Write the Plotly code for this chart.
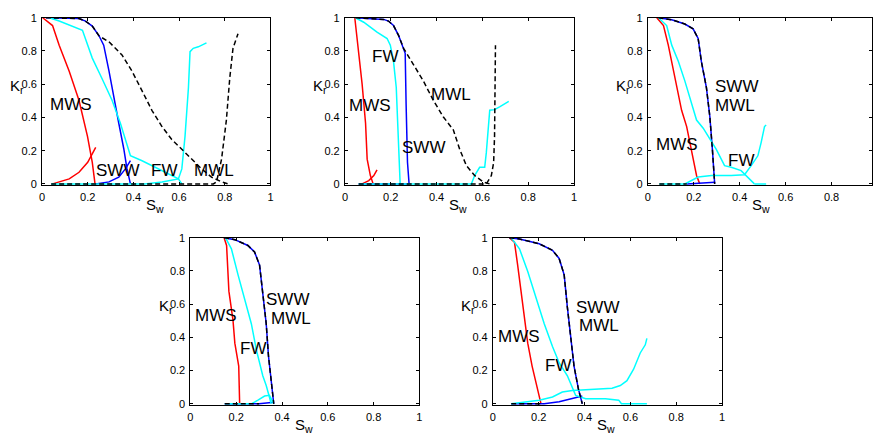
import plotly.graph_objects as go

W, H = 875, 443

# ---------------- Panel 1 ----------------
p1_mws_dr_x = [0.003, 0.046, 0.075, 0.119, 0.162, 0.199, 0.22, 0.232]
p1_mws_dr_y = [1.0, 0.953, 0.835, 0.678, 0.502, 0.286, 0.13, 0.0]
p1_mws_im_x = [0.046, 0.119, 0.162, 0.2, 0.235]
p1_mws_im_y = [0.0, 0.03, 0.07, 0.13, 0.22]
p1_sww_dr_x = [0.017, 0.162, 0.19, 0.22, 0.25, 0.27, 0.293, 0.314, 0.336, 0.358, 0.372, 0.387]
p1_sww_dr_y = [1.0, 0.995, 0.98, 0.95, 0.89, 0.835, 0.68, 0.52, 0.365, 0.21, 0.09, 0.0]
p1_sww_im_x = [0.235, 0.293, 0.336, 0.365, 0.387]
p1_sww_im_y = [0.0, 0.012, 0.04, 0.09, 0.14]
p1_fw_dr_x = [0.032, 0.075, 0.177, 0.22, 0.264, 0.307, 0.343, 0.387, 0.438, 0.496, 0.554, 0.597, 0.612]
p1_fw_dr_y = [1.0, 0.98, 0.924, 0.757, 0.63, 0.502, 0.365, 0.169, 0.139, 0.1, 0.061, 0.031, 0.0]
p1_fw_im_x = [0.04, 0.45, 0.525, 0.597, 0.612, 0.626, 0.641, 0.648, 0.662, 0.684, 0.72]
p1_fw_im_y = [0.0, 0.0, 0.012, 0.03, 0.09, 0.286, 0.58, 0.796, 0.816, 0.825, 0.849]
p1_mwl_dr_x = [0.017, 0.162, 0.19, 0.22, 0.25, 0.293, 0.35, 0.394, 0.438, 0.481, 0.525,
               0.568, 0.612, 0.655, 0.699, 0.742, 0.786, 0.814]
p1_mwl_dr_y = [1.0, 0.995, 0.98, 0.95, 0.89, 0.855, 0.776, 0.678, 0.56, 0.443, 0.345,
               0.267, 0.208, 0.149, 0.09, 0.041, 0.012, 0.0]
p1_mwl_im_x = [0.04, 0.75, 0.764, 0.786, 0.807, 0.822, 0.836, 0.858]
p1_mwl_im_y = [0.0, 0.0, 0.012, 0.149, 0.384, 0.639, 0.816, 0.904]

# ---------------- Panel 2 ----------------
p2_mws_dr_x = [0.043, 0.061, 0.075, 0.09, 0.097, 0.111, 0.123]
p2_mws_dr_y = [1.0, 0.776, 0.6, 0.365, 0.149, 0.05, 0.0]
p2_mws_im_x = [0.075, 0.104, 0.126, 0.14]
p2_mws_im_y = [0.0, 0.02, 0.05, 0.085]
p2_sww_dr_x = [0.046, 0.169, 0.19, 0.212, 0.234, 0.256, 0.263, 0.267, 0.273, 0.28]
p2_sww_dr_y = [1.0, 0.99, 0.98, 0.953, 0.894, 0.816, 0.786, 0.48, 0.13, 0.0]
p2_sww_im_x = [0.06, 0.28]
p2_sww_im_y = [0.0, 0.0]
p2_fw_dr_x = [0.046, 0.082, 0.14, 0.184, 0.198, 0.212, 0.224, 0.23, 0.233, 0.237, 0.241]
p2_fw_dr_y = [1.0, 0.973, 0.914, 0.875, 0.835, 0.737, 0.58, 0.384, 0.188, 0.051, 0.0]
p2_fw_im_x = [0.06, 0.552, 0.566, 0.588, 0.61, 0.617, 0.632, 0.653, 0.675, 0.697, 0.715]
p2_fw_im_y = [0.0, 0.0, 0.05, 0.1, 0.1, 0.188, 0.443, 0.447, 0.463, 0.482, 0.496]
p2_mwl_dr_x = [0.046, 0.169, 0.19, 0.212, 0.234, 0.256, 0.299, 0.342, 0.386, 0.429,
               0.473, 0.501, 0.53, 0.566, 0.603, 0.631]
p2_mwl_dr_y = [1.0, 0.99, 0.98, 0.953, 0.894, 0.816, 0.718, 0.62, 0.502, 0.404,
               0.325, 0.208, 0.11, 0.051, 0.012, 0.0]
p2_mwl_im_x = [0.06, 0.617, 0.639, 0.649, 0.653, 0.656, 0.657]
p2_mwl_im_y = [0.0, 0.0, 0.05, 0.129, 0.286, 0.58, 0.835]

# ---------------- Panel 3 ----------------
p3_mws_dr_x = [0.039, 0.068, 0.089, 0.118, 0.147, 0.169, 0.19, 0.212, 0.226]
p3_mws_dr_y = [1.0, 0.953, 0.835, 0.639, 0.443, 0.345, 0.208, 0.051, 0.0]
p3_sww_dr_x = [0.046, 0.104, 0.161, 0.197, 0.219, 0.233, 0.255, 0.27, 0.281, 0.291]
p3_sww_dr_y = [1.0, 0.988, 0.962, 0.933, 0.875, 0.737, 0.58, 0.404, 0.208, 0.0]
p3_sww_im_x = [0.17, 0.277, 0.291]
p3_sww_im_y = [0.0, 0.006, 0.01]
p3_fw_dr_x = [0.046, 0.082, 0.104, 0.133, 0.161, 0.19, 0.212, 0.241, 0.27, 0.298,
              0.334, 0.363, 0.406, 0.428, 0.45, 0.464]
p3_fw_dr_y = [1.0, 0.953, 0.835, 0.737, 0.62, 0.482, 0.384, 0.335, 0.267, 0.208,
              0.11, 0.1, 0.08, 0.051, 0.022, 0.0]
p3_fw_im_x = [0.05, 0.161, 0.219, 0.277, 0.363, 0.421, 0.45, 0.479, 0.493, 0.508, 0.515]
p3_fw_im_y = [0.0, 0.0, 0.041, 0.051, 0.051, 0.055, 0.11, 0.169, 0.247, 0.345, 0.355]
p3_fw_tail_x = [0.464, 0.515]
p3_fw_tail_y = [0.0, 0.0]
p3_mwl_dr_x = p3_sww_dr_x
p3_mwl_dr_y = p3_sww_dr_y
p3_mwl_im_x = [0.05, 0.17]
p3_mwl_im_y = [0.0, 0.0]

# ---------------- Panel 4 ----------------
p4_mws_dr_x = [0.147, 0.158, 0.168, 0.186, 0.194, 0.211, 0.215]
p4_mws_dr_y = [1.0, 0.953, 0.678, 0.502, 0.365, 0.227, 0.0]
p4_sww_dr_x = [0.147, 0.194, 0.251, 0.28, 0.302, 0.316, 0.331, 0.341, 0.353, 0.364]
p4_sww_dr_y = [1.0, 0.988, 0.953, 0.914, 0.835, 0.678, 0.482, 0.286, 0.149, 0.0]
p4_sww_im_x = [0.15, 0.3, 0.364]
p4_sww_im_y = [0.0, 0.0, 0.01]
p4_fw_dr_x = [0.153, 0.179, 0.208, 0.237, 0.266, 0.288, 0.302, 0.316, 0.331, 0.345, 0.353]
p4_fw_dr_y = [1.0, 0.933, 0.776, 0.62, 0.482, 0.325, 0.247, 0.169, 0.11, 0.031, 0.0]
p4_fw_im_x = [0.15, 0.266, 0.295, 0.324, 0.345, 0.355, 0.364]
p4_fw_im_y = [0.0, 0.0, 0.022, 0.047, 0.051, 0.02, 0.0]
p4_mwl_dr_x = p4_sww_dr_x
p4_mwl_dr_y = p4_sww_dr_y
p4_mwl_im_x = [0.15, 0.3]
p4_mwl_im_y = [0.0, 0.0]

# ---------------- Panel 5 ----------------
p5_mws_dr_x = [0.072, 0.094, 0.108, 0.123, 0.137, 0.152, 0.171, 0.191, 0.21]
p5_mws_dr_y = [1.0, 0.973, 0.835, 0.678, 0.522, 0.365, 0.227, 0.11, 0.0]
p5_sww_dr_x = [0.072, 0.116, 0.202, 0.26, 0.289, 0.311, 0.325, 0.34, 0.354, 0.373, 0.39]
p5_sww_dr_y = [1.0, 0.992, 0.963, 0.924, 0.875, 0.776, 0.58, 0.384, 0.227, 0.09, 0.0]
p5_sww_im_x = [0.08, 0.224, 0.289, 0.347, 0.39]
p5_sww_im_y = [0.0, 0.0, 0.012, 0.031, 0.047]
p5_fw_dr_x = [0.079, 0.116, 0.152, 0.188, 0.224, 0.26, 0.289, 0.325, 0.347, 0.361,
              0.405, 0.491, 0.549, 0.561, 0.672]
p5_fw_dr_y = [1.0, 0.933, 0.796, 0.639, 0.482, 0.345, 0.247, 0.169, 0.1, 0.051,
              0.031, 0.031, 0.022, 0.0, 0.0]
p5_fw_im_x = [0.08, 0.202, 0.26, 0.303, 0.347, 0.419, 0.52, 0.556, 0.585, 0.614, 0.643, 0.665, 0.672]
p5_fw_im_y = [0.0, 0.022, 0.041, 0.071, 0.08, 0.086, 0.094, 0.11, 0.139, 0.208, 0.306, 0.355, 0.394]
p5_mwl_dr_x = p5_sww_dr_x
p5_mwl_dr_y = p5_sww_dr_y
p5_mwl_im_x = [0.08, 0.22]
p5_mwl_im_y = [0.0, 0.0]

tick_vals = [0, 0.2, 0.4, 0.6, 0.8, 1]
tick_text = ["0", "0.2", "0.4", "0.6", "0.8", "1"]

# Plot-area boxes in pixels: left, right, top, bottom(y=0), x-axis max
boxes = [
    (39.3, 269.3, 12, 182, 1.0),
    (344.3, 575.0, 12, 182, 1.0),
    (649.3, 875.0, 12, 182, 0.976),
    (188.7, 419.3, 237, 407, 1.0),
    (493.3, 724.0, 237, 407, 1.0),
]
Y_LOW = -0.008

RED, BLUE, CYAN, BLACK = "#ff0000", "#0000ff", "#00ffff", "#000000"
DASH = "5px,3px"

panels = [
    [(p1_mws_dr_x, p1_mws_dr_y, RED, None), (p1_mws_im_x, p1_mws_im_y, RED, None),
     (p1_sww_dr_x, p1_sww_dr_y, BLUE, None), (p1_sww_im_x, p1_sww_im_y, BLUE, None),
     (p1_fw_dr_x, p1_fw_dr_y, CYAN, None), (p1_fw_im_x, p1_fw_im_y, CYAN, None),
     (p1_mwl_dr_x, p1_mwl_dr_y, BLACK, DASH), (p1_mwl_im_x, p1_mwl_im_y, BLACK, DASH)],
    [(p2_mws_dr_x, p2_mws_dr_y, RED, None), (p2_mws_im_x, p2_mws_im_y, RED, None),
     (p2_sww_dr_x, p2_sww_dr_y, BLUE, None), (p2_sww_im_x, p2_sww_im_y, BLUE, None),
     (p2_fw_dr_x, p2_fw_dr_y, CYAN, None), (p2_fw_im_x, p2_fw_im_y, CYAN, None),
     (p2_mwl_dr_x, p2_mwl_dr_y, BLACK, DASH), (p2_mwl_im_x, p2_mwl_im_y, BLACK, DASH)],
    [(p3_mws_dr_x, p3_mws_dr_y, RED, None),
     (p3_sww_dr_x, p3_sww_dr_y, BLUE, None), (p3_sww_im_x, p3_sww_im_y, BLUE, None),
     (p3_fw_dr_x, p3_fw_dr_y, CYAN, None), (p3_fw_im_x, p3_fw_im_y, CYAN, None),
     (p3_fw_tail_x, p3_fw_tail_y, CYAN, None),
     (p3_mwl_dr_x, p3_mwl_dr_y, BLACK, DASH), (p3_mwl_im_x, p3_mwl_im_y, BLACK, DASH)],
    [(p4_mws_dr_x, p4_mws_dr_y, RED, None),
     (p4_sww_dr_x, p4_sww_dr_y, BLUE, None), (p4_sww_im_x, p4_sww_im_y, BLUE, None),
     (p4_fw_dr_x, p4_fw_dr_y, CYAN, None), (p4_fw_im_x, p4_fw_im_y, CYAN, None),
     (p4_mwl_dr_x, p4_mwl_dr_y, BLACK, DASH), (p4_mwl_im_x, p4_mwl_im_y, BLACK, DASH)],
    [(p5_mws_dr_x, p5_mws_dr_y, RED, None),
     (p5_sww_dr_x, p5_sww_dr_y, BLUE, None), (p5_sww_im_x, p5_sww_im_y, BLUE, None),
     (p5_fw_dr_x, p5_fw_dr_y, CYAN, None), (p5_fw_im_x, p5_fw_im_y, CYAN, None),
     (p5_mwl_dr_x, p5_mwl_dr_y, BLACK, DASH), (p5_mwl_im_x, p5_mwl_im_y, BLACK, DASH)],
]

# Curve labels: (text, x, y, anchor) in data coordinates of each panel
labels = [
    [("MWS", 0.125, 0.48, "center"), ("SWW", 0.33, 0.08, "center"),
     ("FW", 0.535, 0.08, "center"), ("MWL", 0.755, 0.08, "center")],
    [("FW", 0.176, 0.765, "center"), ("MWS", 0.111, 0.47, "center"),
     ("MWL", 0.461, 0.54, "center"), ("SWW", 0.341, 0.218, "center")],
    [("SWW", 0.285, 0.586, "left"), ("MWL", 0.285, 0.472, "left"),
     ("MWS", 0.127, 0.237, "center"), ("FW", 0.404, 0.139, "center")],
    [("MWS", 0.113, 0.531, "center"), ("SWW", 0.323, 0.625, "left"),
     ("MWL", 0.345, 0.512, "left"), ("FW", 0.273, 0.331, "center")],
    [("SWW", 0.354, 0.58, "left"), ("MWL", 0.369, 0.472, "left"),
     ("MWS", 0.116, 0.404, "center"), ("FW", 0.282, 0.228, "center")],
]

FONT = "Liberation Sans, Arial, Helvetica, sans-serif"

fig = go.Figure()
annotations = []
layout_axes = {}

for i, (box, curves, labs) in enumerate(zip(boxes, panels, labels)):
    left, right, top, bottom, xmax = box
    k = "" if i == 0 else str(i + 1)
    xa, ya = "x" + k, "y" + k
    bottom_px = bottom + (-Y_LOW) * (bottom - top)
    axis_common = dict(
        showline=True, mirror="ticks", linecolor="black", linewidth=1,
        ticks="inside", ticklen=3, tickcolor="black", tickwidth=1,
        showgrid=False, zeroline=False, fixedrange=True,
        tickvals=tick_vals, ticktext=tick_text,
        tickfont=dict(family=FONT, size=11, color="black"),
    )
    layout_axes["xaxis" + k] = dict(
        axis_common, domain=[left / W, min(right / W, 1.0)], range=[0, xmax],
        anchor=ya, ticklabelstandoff=2,
    )
    layout_axes["yaxis" + k] = dict(
        axis_common, domain=[1 - bottom_px / H, 1 - top / H], range=[Y_LOW, 1.0],
        anchor=xa, ticklabelstandoff=2,
    )
    for cx, cy, col, dash in curves:
        fig.add_trace(go.Scatter(
            x=cx, y=cy, mode="lines", xaxis=xa, yaxis=ya, showlegend=False,
            line=dict(color=col, width=1.5, dash=dash) if dash else dict(color=col, width=1.5),
            hoverinfo="skip",
        ))
    for text, lx, ly, anch in labs:
        annotations.append(dict(
            text=text, x=lx, y=ly, xref=xa, yref=ya, showarrow=False,
            xanchor=anch, yanchor="middle",
            font=dict(family=FONT, size=17, color="black"),
        ))
    # y-axis title K_r
    annotations.append(dict(
        text="K<sub>r</sub>", x=(left - 34) / W, y=1 - (top + 59) / H,
        xref="paper", yref="paper", xanchor="left", yanchor="top", showarrow=False,
        font=dict(family=FONT, size=15, color="black"),
    ))
    # x-axis title S_w
    annotations.append(dict(
        text="S<sub>w</sub>", x=(left + 230 / 2 - 1) / W, y=1 - (bottom + 10) / H,
        xref="paper", yref="paper", xanchor="center", yanchor="top", showarrow=False,
        font=dict(family=FONT, size=15, color="black"),
    ))

fig.update_layout(
    width=W, height=H, margin=dict(l=0, r=0, t=0, b=0),
    paper_bgcolor="white", plot_bgcolor="white",
    annotations=annotations, **layout_axes,
)

fig.write_html("out.html")
